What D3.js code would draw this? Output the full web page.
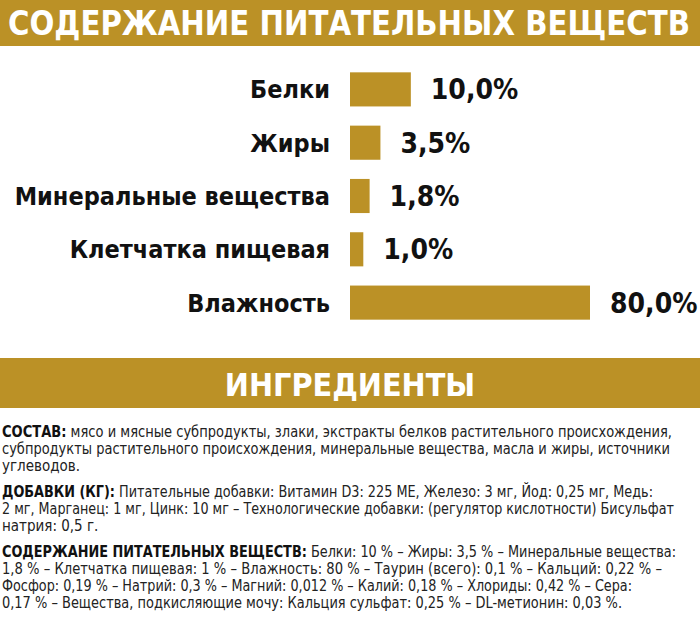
<!DOCTYPE html>
<html><head><meta charset="utf-8">
<script src="https://cdn.jsdelivr.net/npm/d3@7"></script>
<style>body{margin:0;background:#fff}</style>
</head><body>
<div id="chart"></div>
<script>
const categories = ["Белки", "Жиры", "Минеральные вещества", "Клетчатка пищевая", "Влажность"];
const values = [10.0, 3.5, 1.8, 1.0, 80.0];
const valueLabels = ["10,0%", "3,5%", "1,8%", "1,0%", "80,0%"];

// ingredient text lines: [bold prefix, rest, target width or 0]
const textLines = [
  ["СОСТАВ:", " мясо и мясные субпродукты, злаки, экстракты белков растительного происхождения,", 670],
  ["", "субпродукты растительного происхождения, минеральные вещества, масла и жиры, источники", 668],
  ["", "углеводов.", 0],
  ["ДОБАВКИ (КГ):", " Питательные добавки: Витамин D3: 225 МЕ, Железо: 3 мг, Йод: 0,25 мг, Медь:", 651],
  ["", "2 мг, Марганец: 1 мг, Цинк: 10 мг – Технологические добавки: (регулятор кислотности) Бисульфат", 672],
  ["", "натрия: 0,5 г.", 0],
  ["СОДЕРЖАНИЕ ПИТАТЕЛЬНЫХ ВЕЩЕСТВ:", " Белки: 10 % – Жиры: 3,5 % – Минеральные вещества:", 674],
  ["", "1,8 % – Клетчатка пищевая: 1 % – Влажность: 80 % – Таурин (всего): 0,1 % – Кальций: 0,22 % –", 660],
  ["", "Фосфор: 0,19 % – Натрий: 0,3 % – Магний: 0,012 % – Калий: 0,18 % – Хлориды: 0,42 % – Сера:", 630],
  ["", "0,17 % – Вещества, подкисляющие мочу: Кальция сульфат: 0,25 % – DL-метионин: 0,03 %.", 620]
];
const lineY = [437, 454, 471, 497, 514, 531, 557, 574, 591, 608];

const width = 700, height = 621;
const gold = "#bb9126";
const font = "'DejaVu Sans Condensed','Liberation Sans Narrow','Roboto',sans-serif";

const svg = d3.select("#chart").append("svg")
  .attr("width", width).attr("height", height)
  .style("font-family", font);

// header bands
svg.append("rect").attr("x", 0).attr("y", 0).attr("width", width).attr("height", 46).attr("fill", gold);
svg.append("text").attr("x", 8).attr("y", 35).attr("fill", "#fff")
  .attr("font-size", 33).attr("font-weight", "bold")
  .attr("textLength", 682).attr("lengthAdjust", "spacingAndGlyphs")
  .text("СОДЕРЖАНИЕ ПИТАТЕЛЬНЫХ ВЕЩЕСТВ");

svg.append("rect").attr("x", 0).attr("y", 358).attr("width", width).attr("height", 50).attr("fill", gold);
svg.append("text").attr("x", 350).attr("y", 396).attr("fill", "#fff")
  .attr("text-anchor", "middle").attr("font-size", 32).attr("font-weight", "bold")
  .text("ИНГРЕДИЕНТЫ");

// bars
const x = d3.scalePow().exponent(0.66).domain([0, 80]).range([0, 240]);
const y = d3.scaleBand().domain(categories).range([67, 325]).paddingInner(0.36).paddingOuter(0.1);

const rows = svg.selectAll("g.row").data(categories).enter().append("g").attr("class", "row");

rows.append("rect")
  .attr("x", 350)
  .attr("y", d => y(d))
  .attr("width", (d, i) => x(values[i]))
  .attr("height", y.bandwidth())
  .attr("fill", gold);

rows.append("text")
  .attr("x", 330)
  .attr("y", d => y(d) + y.bandwidth() / 2 + 9)
  .attr("text-anchor", "end")
  .attr("font-size", 25).attr("font-weight", "bold").attr("fill", "#111")
  .text(d => d);

rows.append("text")
  .attr("x", (d, i) => 350 + x(values[i]) + 20)
  .attr("y", d => y(d) + y.bandwidth() / 2 + 10)
  .attr("font-size", 28).attr("font-weight", "bold").attr("fill", "#111")
  .text((d, i) => valueLabels[i]);

// ingredient text
textLines.forEach((ln, i) => {
  const t = svg.append("text").attr("x", 2).attr("y", lineY[i])
    .attr("font-size", 15).attr("fill", "#222");
  if (ln[2]) t.attr("textLength", ln[2]).attr("lengthAdjust", "spacingAndGlyphs");
  if (ln[0]) t.append("tspan").attr("font-weight", "bold").attr("fill", "#111").text(ln[0]);
  t.append("tspan").text(ln[1]);
});
</script>
</body></html>
